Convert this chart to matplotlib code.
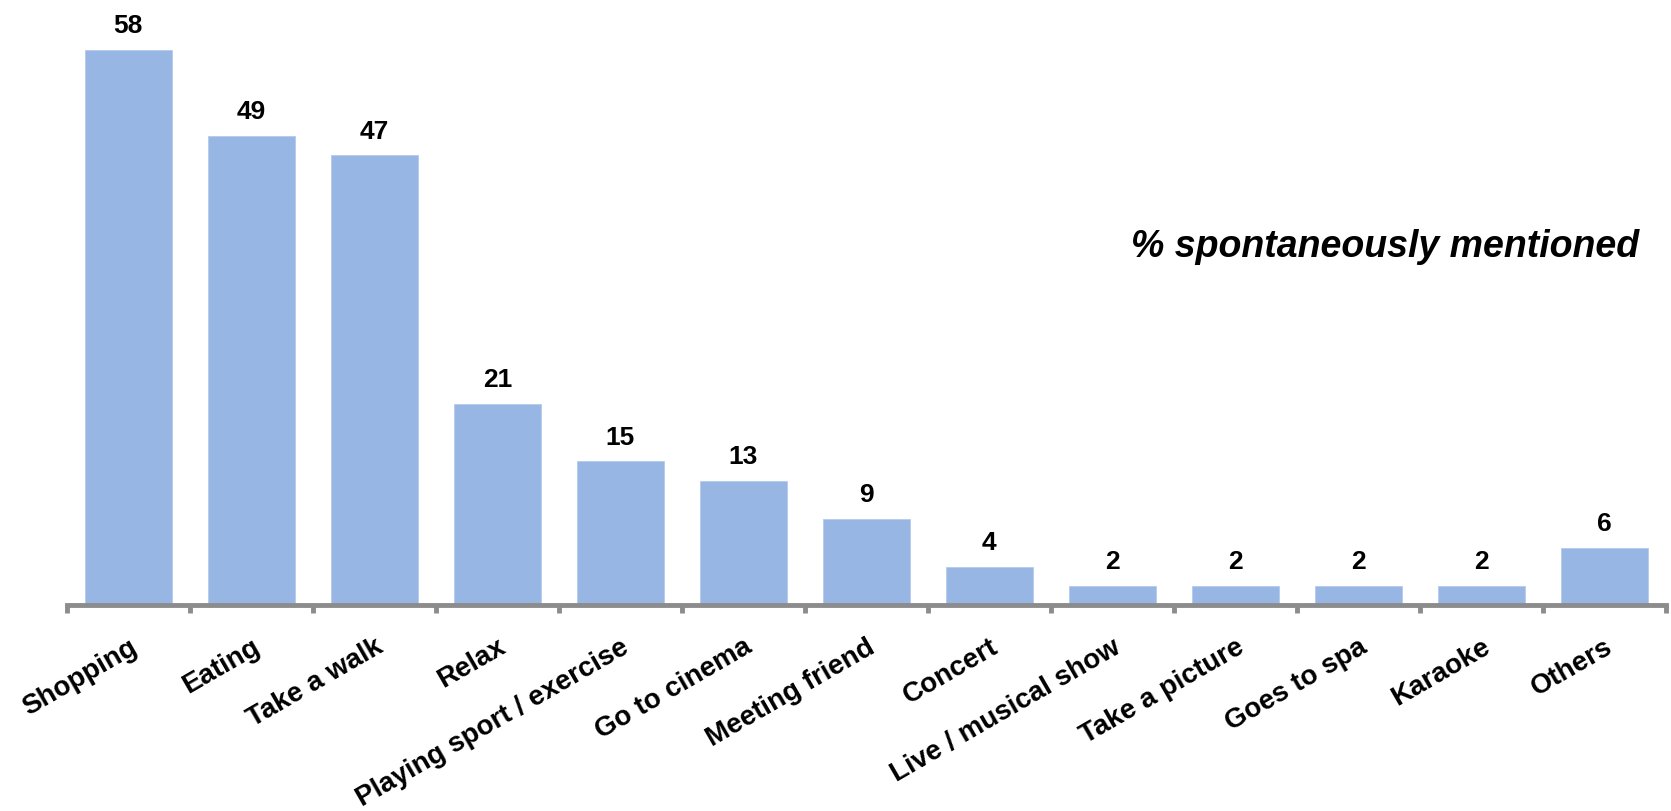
import matplotlib
matplotlib.use('Agg')

import matplotlib.pyplot as plt
import numpy as np

#--data--#
ACTIVITIES = ['Shopping', 'Eating', 'Take a walk', 'Relax', 'Playing sport / exercise',
              'Go to cinema', 'Meeting friend', 'Concert', 'Live / musical show',
              'Take a picture', 'Goes to spa', 'Karaoke', 'Others']
PCT = [58, 49, 47, 21, 15, 13, 9, 4, 2, 2, 2, 2, 6]

plt.rcParams['font.family'] = ['Liberation Sans', 'DejaVu Sans']

fig = plt.figure(figsize=(16.71, 8.11), dpi=100)
ax = fig.add_axes([0.040, 0.254, 0.957, 0.746])

x = np.arange(len(ACTIVITIES))
bars = ax.bar(x, PCT, width=0.71, color='#97B6E3', edgecolor='#B5CBEB', linewidth=0.6, zorder=2)

#--value labels--#
for xi, v in zip(x, PCT):
	ax.text(xi, v + 1.2, str(v), ha='center', va='bottom', fontsize=19, fontweight='bold')

ax.set_xlim(-0.5, len(ACTIVITIES) - 0.5)
ax.set_ylim(0, 63.2)

#--axis--#
for s in ['top', 'right', 'left']:
	ax.spines[s].set_visible(False)
ax.spines['bottom'].set_color('#8C8C8C')
ax.spines['bottom'].set_linewidth(3.5)
ax.spines['bottom'].set_zorder(3)
ax.set_yticks([])

ax.set_xticks(x)
ax.set_xticklabels(ACTIVITIES, rotation=30, ha='right', rotation_mode='anchor',
				   fontsize=20, fontweight='bold')
ax.tick_params(axis='x', which='major', length=0, pad=21)
ax.set_xticks(np.arange(-0.5, len(ACTIVITIES), 1), minor=True)
ax.tick_params(axis='x', which='minor', length=6, width=3.5, color='#8C8C8C', direction='out')

#--note--#
fig.text(0.829, 0.695, '% spontaneously mentioned', ha='center', va='center',
		 fontsize=27, fontweight='bold', fontstyle='italic')

plt.savefig('out.png', dpi=100)
